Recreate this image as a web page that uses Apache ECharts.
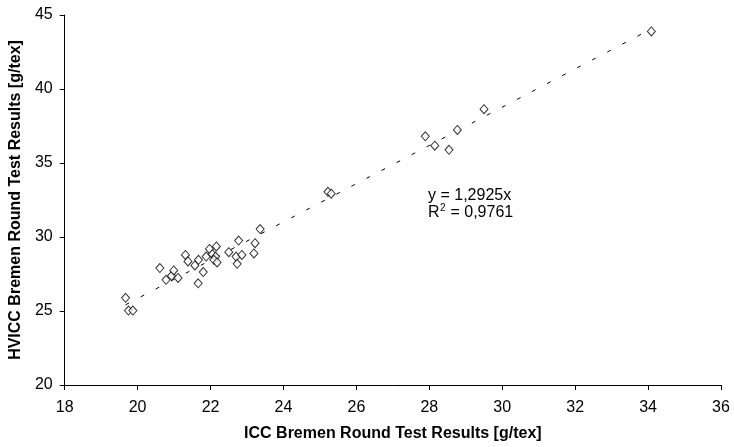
<!DOCTYPE html>
<html>
<head>
<meta charset="utf-8">
<script src="https://cdn.jsdelivr.net/npm/echarts@6/dist/echarts.min.js"></script>
<style>
html,body{margin:0;padding:0;background:#fff;}
#c{width:734px;height:447px;}
</style>
</head>
<body>
<div id="c"></div>
<script>
// ICC (x) vs HVICC (y) measured values
const iccValues = [19.67, 19.75, 19.87, 20.61, 20.78, 20.93, 20.99, 21.11, 21.31, 21.38,
  21.57, 21.67, 21.80, 21.66, 21.88, 21.97, 22.05, 22.16, 22.14, 22.09,
  22.18, 22.50, 22.70, 22.73, 22.86, 22.77, 23.19, 23.22, 23.36, 25.22,
  25.31, 27.89, 28.15, 28.54, 28.77, 29.50, 34.09];
const hviccValues = [25.89, 25.03, 25.03, 27.90, 27.11, 27.38, 27.74, 27.23, 28.79, 28.35,
  28.08, 28.46, 27.63, 26.87, 28.68, 29.19, 28.84, 29.36, 28.68, 28.46,
  28.28, 28.97, 28.68, 28.19, 28.79, 29.76, 28.89, 29.58, 30.54, 33.05,
  32.93, 36.80, 36.17, 35.89, 37.23, 38.64, 43.89];
// linear trend line through origin, y = 1.2925x
const trendX = [19.67, 34.09];
const trendY = [25.42, 44.06];
const xTicks = [18, 20, 22, 24, 26, 28, 30, 32, 34, 36];
const yTicks = [20, 25, 30, 35, 40, 45];
const eqLine1 = 'y = 1,2925x';
const eqR = 'R';
const eqSup = '2';
const eqRest = ' = 0,9761';
const xTitle = 'ICC Bremen Round Test Results [g/tex]';
const yTitle = 'HVICC Bremen Round Test Results [g/tex]';

const chart = echarts.init(document.getElementById('c'), null, {renderer: 'canvas'});
const FONT = 'Liberation Sans, Arial, sans-serif';
const axisCommon = {
  axisLine: {show: true, lineStyle: {color: '#000', width: 1}},
  axisTick: {show: true, inside: false, length: 5, lineStyle: {color: '#000'}},
  splitLine: {show: false},
  axisLabel: {color: '#000', fontFamily: FONT, fontSize: 16}
};
chart.setOption({
  animation: false,
  backgroundColor: '#fff',
  grid: {left: 62, right: 13, top: 15, bottom: 59, containLabel: false},
  xAxis: Object.assign({}, axisCommon, {
    type: 'value', min: xTicks[0], max: xTicks[xTicks.length - 1], interval: 2,
    name: xTitle, nameLocation: 'middle', nameGap: 41,
    nameTextStyle: {color: '#000', fontFamily: FONT, fontSize: 16, fontWeight: 'bold'},
    axisLabel: Object.assign({}, axisCommon.axisLabel, {margin: 15})
  }),
  yAxis: Object.assign({}, axisCommon, {
    type: 'value', min: yTicks[0], max: yTicks[yTicks.length - 1], interval: 5,
    name: yTitle, nameLocation: 'middle', nameGap: 39,
    nameTextStyle: {color: '#000', fontFamily: FONT, fontSize: 16, fontWeight: 'bold'},
    axisLabel: Object.assign({}, axisCommon.axisLabel, {margin: 12})
  }),
  series: [
    {
      type: 'line',
      data: trendX.map((x, i) => [x, trendY[i]]),
      symbol: 'none',
      lineStyle: {color: '#000', width: 1, type: [4, 13]},
      z: 1
    },
    {
      type: 'scatter',
      data: iccValues.map((x, i) => [x, hviccValues[i]]),
      symbol: 'diamond',
      symbolSize: [8, 9],
      itemStyle: {color: '#fff', borderColor: '#000', borderWidth: 1},
      z: 2
    }
  ],
  graphic: [
    {type: 'text', left: 428, top: 188, style: {text: eqLine1, font: '16px ' + FONT, fill: '#000'}},
    {type: 'text', left: 428, top: 205, style: {text: eqR, font: '16px ' + FONT, fill: '#000'}},
    {type: 'text', left: 440, top: 203, style: {text: eqSup, font: '10px ' + FONT, fill: '#000'}},
    {type: 'text', left: 446, top: 205, style: {text: eqRest, font: '16px ' + FONT, fill: '#000'}}
  ]
});
</script>
</body>
</html>
